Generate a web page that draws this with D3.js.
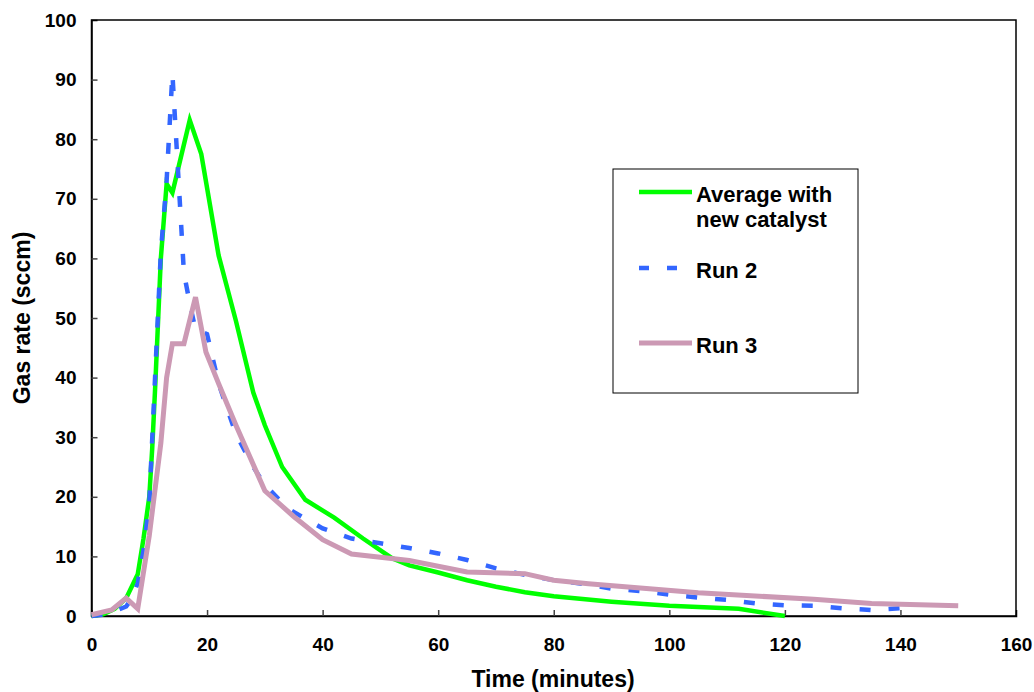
<!DOCTYPE html>
<html>
<head>
<meta charset="utf-8">
<script src="https://cdn.jsdelivr.net/npm/d3@7"></script>
<style>
  body { margin: 0; background: #fff; }
  text { font-family: "Liberation Sans", Arial, sans-serif; font-weight: bold; fill: #000; }
</style>
</head>
<body>
<div id="chart"></div>
<script>
// data (time in minutes, gas rate in sccm)
var avgTime = [0, 2, 4, 6, 8, 9, 10, 10.5, 11, 12, 13, 14, 17, 19, 22, 25, 28, 30, 33, 37, 42, 47, 52, 55, 60, 65, 70, 75, 80, 90, 100, 112, 120];
var avgRate = [0, 0.3, 1.2, 3, 7, 13, 20, 28, 38, 60, 72.5, 71, 83.2, 77.5, 60.5, 49.5, 37.5, 32, 25, 19.5, 16.5, 13, 9.7, 8.5, 7.3, 6, 4.9, 4, 3.3, 2.4, 1.7, 1.2, 0];

var run2Time = [0, 2, 4, 6, 7, 8, 9, 10, 11, 12, 13, 14, 16, 17, 18, 20, 22, 25, 28, 30, 34, 40, 45, 50, 55, 60, 65, 70, 75, 80, 85, 90, 95, 100, 105, 110, 115, 120, 125, 130, 135, 140];
var run2Rate = [0, 0.2, 0.8, 1.6, 3, 5.5, 11, 19, 40, 61, 73, 91, 57.5, 52.5, 48, 47.3, 39, 30.5, 25, 22, 18, 14.7, 13, 12.2, 11.4, 10.5, 9.4, 8, 6.9, 6, 5.4, 4.6, 4.2, 3.6, 3.1, 2.7, 2.1, 1.8, 1.7, 1.3, 1.0, 1.3];

var run3Time = [0, 3.5, 6, 8, 10, 12, 13, 14, 16, 18, 19.8, 22, 25, 30, 35, 40, 45, 55, 65, 75, 80, 86, 105, 125, 135, 150];
var run3Rate = [0.2, 1, 3, 1.2, 13.5, 29, 40, 45.7, 45.7, 53.5, 44.3, 39, 32, 21, 16.7, 12.8, 10.4, 9.3, 7.4, 7.1, 6.0, 5.4, 3.9, 2.8, 2.1, 1.7];

var seriesNames = ["Average with|new catalyst", "Run 2", "Run 3"];
var xTicks = [0, 20, 40, 60, 80, 100, 120, 140, 160];
var yTicks = [0, 10, 20, 30, 40, 50, 60, 70, 80, 90, 100];

var svgWidth = 1034;
var svgHeight = 692;

var svg = d3.select("#chart").append("svg")
    .attr("width", svgWidth)
    .attr("height", svgHeight);

var xScale = d3.scaleLinear().domain([0, 160]).range([91.5, 1016]);
var yScale = d3.scaleLinear().domain([0, 100]).range([616, 20]);

// plot frame
svg.append("rect")
    .attr("x", xScale(0))
    .attr("y", yScale(100))
    .attr("width", xScale(160) - xScale(0))
    .attr("height", yScale(0) - yScale(100))
    .attr("fill", "none")
    .attr("stroke", "#000")
    .attr("stroke-width", 1.5);

// axes, ticks pointing inward
var xAxis = d3.axisBottom(xScale).tickValues(xTicks).tickSize(-6).tickPadding(22);
var yAxis = d3.axisLeft(yScale).tickValues(yTicks).tickSize(-6).tickPadding(15);

var gx = svg.append("g")
    .attr("transform", `translate(0, ${yScale(0)})`)
    .call(xAxis);
var gy = svg.append("g")
    .attr("transform", `translate(${xScale(0)}, 0)`)
    .call(yAxis);

[gx, gy].forEach(g => {
    g.select(".domain").attr("stroke", "#000").attr("stroke-width", 1.5);
    g.selectAll(".tick line").attr("stroke", "#444").attr("stroke-width", 1.5);
    g.selectAll(".tick text")
        .style("font-size", "19px")
        .style("font-family", "'Liberation Sans', Arial, sans-serif")
        .style("font-weight", "bold")
        .attr("fill", "#000");
});
gx.selectAll(".tick").filter(d => d === 0 || d === 160).select("line").remove();
gy.selectAll(".tick").filter(d => d === 0 || d === 100).select("line").remove();

// axis titles
svg.append("text")
    .attr("x", 553)
    .attr("y", 687)
    .attr("text-anchor", "middle")
    .style("font-size", "23px")
    .text("Time (minutes)");

svg.append("text")
    .attr("transform", "translate(30, 318) rotate(-90)")
    .attr("text-anchor", "middle")
    .style("font-size", "23px")
    .text("Gas rate (sccm)");

// lines
var line = d3.line()
    .x(d => xScale(d[0]))
    .y(d => yScale(d[1]));

var avgData = avgTime.map((t, i) => [t, avgRate[i]]);
var run2Data = run2Time.map((t, i) => [t, run2Rate[i]]);
var run3Data = run3Time.map((t, i) => [t, run3Rate[i]]);

var styles = [
    { color: "#00ff00", width: 4.5, dash: null },
    { color: "#3366ff", width: 4.5, dash: "11,18" },
    { color: "#cc99b4", width: 5, dash: null }
];

[avgData, run2Data, run3Data].forEach((data, i) => {
    svg.append("path")
        .datum(data)
        .attr("d", line)
        .attr("fill", "none")
        .attr("stroke", styles[i].color)
        .attr("stroke-width", styles[i].width)
        .attr("stroke-dasharray", styles[i].dash)
        .attr("stroke-linejoin", "miter");
});

// legend
var legend = svg.append("g");
legend.append("rect")
    .attr("x", 613)
    .attr("y", 169)
    .attr("width", 245)
    .attr("height", 224)
    .attr("fill", "#fff")
    .attr("stroke", "#000")
    .attr("stroke-width", 1);

var legendY = [192, 268, 343];
seriesNames.forEach((name, i) => {
    legend.append("line")
        .attr("x1", 639)
        .attr("x2", 692)
        .attr("y1", legendY[i])
        .attr("y2", legendY[i])
        .attr("stroke", styles[i].color)
        .attr("stroke-width", styles[i].width)
        .attr("stroke-dasharray", i === 1 ? "10,18" : null);
    var t = legend.append("text")
        .attr("x", 696)
        .attr("y", legendY[i] + 10)
        .style("font-size", "22px");
    name.split("|").forEach((part, j) => {
        t.append("tspan")
            .attr("x", 696)
            .attr("dy", j === 0 ? 0 : 25)
            .text(part);
    });
});
</script>
</body>
</html>
